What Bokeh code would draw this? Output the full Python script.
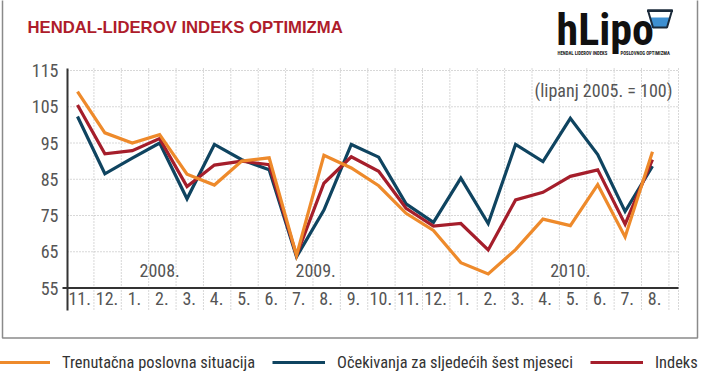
from bokeh.plotting import figure
from bokeh.models import Range1d, Legend, LegendItem
from bokeh.core.properties import value
from bokeh.embed import file_html
from bokeh.resources import INLINE

# ---------------- data ----------------
months = ["11.", "12.", "1.", "2.", "3.", "4.", "5.", "6.", "7.", "8.", "9.", "10.",
          "11.", "12.", "1.", "2.", "3.", "4.", "5.", "6.", "7.", "8."]
trenutacna = [109.2, 97.8, 95.0, 97.3, 86.4, 83.4, 90.0, 90.9, 64.0, 91.6, 88.1, 83.2,
              75.6, 70.9, 62.0, 58.9, 65.6, 74.0, 72.2, 83.5, 69.1, 92.6]
ocekivanja = [102.3, 86.5, 90.8, 95.0, 79.6, 94.6, 90.4, 87.6, 63.6, 76.5, 94.6, 91.1,
              78.2, 73.1, 85.3, 72.8, 94.6, 89.9, 101.8, 91.8, 76.1, 88.6]
indeks = [105.5, 92.0, 92.9, 96.2, 83.0, 88.9, 90.0, 89.0, 64.0, 83.9, 91.2, 87.2,
          77.0, 72.1, 72.8, 65.5, 79.3, 81.4, 85.8, 87.6, 72.6, 90.4]
y_ticks = [55, 65, 75, 85, 95, 105, 115]
years = ["2008.", "2009.", "2010."]
series_names = ["Trenutačna poslovna situacija", "Očekivanja za sljedećih šest mjeseci", "Indeks"]
title_text = "HENDAL-LIDEROV INDEKS OPTIMIZMA"
note_text = "(lipanj 2005. = 100)"

# ---------------- styles / layout ----------------
ORANGE = "#EE8A2B"
NAVY = "#0F4460"
RED = "#A51E2B"
TITLE_RED = "#AE1C2B"
COND_NAME = '"Roboto Condensed", Roboto, sans-serif'
COND = value(COND_NAME)
W, H = 702, 375

# pixel geometry of the plotting area (frame covers the whole canvas)
X0_PX, X_STEP = 77.0, 27.38          # pixel of first category, pixels per category
Y55_PX, Y_STEP = 287.5, 3.625        # pixel of value 55, pixels per unit
AX_L, AX_R, AX_T, AX_B = 67, 678, 68, 310


def dx(px):
    return (px - X0_PX) / X_STEP


def dy(py):
    return 55 + (Y55_PX - py) / Y_STEP


xs = list(range(len(months)))
year_x = [3.0, 8.7, 18.0]

p = figure(width=W, height=H, output_backend="svg", toolbar_location=None, title=None,
           x_range=Range1d(dx(0), dx(W)), y_range=Range1d(dy(H), dy(0)),
           x_axis_location=None, y_axis_location=None,
           min_border=0, min_border_left=0, min_border_right=0,
           min_border_top=0, min_border_bottom=0)
p.outline_line_color = None
p.xgrid.visible = False
p.ygrid.visible = False
p.background_fill_color = "white"
p.border_fill_color = "white"

GRID = dict(line_color="#b0b0b0", line_dash="1 2", line_width=1)
# horizontal grid lines
hg = y_ticks[1:]
p.segment(x0=[dx(AX_L)] * len(hg), x1=[dx(AX_R)] * len(hg), y0=hg, y1=hg, **GRID)
# vertical grid lines (between months)
vg = [i + 0.6 for i in xs] + [dx(AX_R)]
p.segment(x0=vg, x1=vg, y0=[dy(AX_T)] * len(vg), y1=[dy(AX_B)] * len(vg), **GRID)

# axis lines
p.segment(x0=[dx(AX_L)], x1=[dx(AX_L)], y0=[dy(AX_T)], y1=[dy(AX_B)],
          line_color="#333333", line_width=2)
p.segment(x0=[dx(62)], x1=[dx(AX_R)], y0=[y_ticks[0]], y1=[y_ticks[0]],
          line_color="#333333", line_width=2)

# tick labels
p.text(x=[dx(58)] * len(y_ticks), y=y_ticks, text=[str(t) for t in y_ticks],
       text_align="right", text_baseline="middle", text_font=COND,
       text_font_size="18px", text_color="#555555")
p.text(x=[i + 0.08 for i in xs], y=[dy(298)] * len(xs), text=months,
       text_align="center", text_baseline="middle", text_font=COND,
       text_font_size="18px", text_color="#555555")

# series
r_nav = p.line(xs, ocekivanja, line_color=NAVY, line_width=3.2, line_join="miter")
r_red = p.line(xs, indeks, line_color=RED, line_width=3.2, line_join="miter")
r_or = p.line(xs, trenutacna, line_color=ORANGE, line_width=3.2, line_join="miter")

# year labels & note
p.text(x=year_x, y=[dy(270)] * len(years), text=years, text_align="center",
       text_baseline="middle", text_font=COND, text_font_size="18px",
       text_color="#555555")
p.text(x=[dx(603)], y=[dy(90)], text=[note_text], text_align="center",
       text_baseline="middle", text_font=COND, text_font_size="18px",
       text_color="#555555")

# title
p.text(x=[dx(27)], y=[dy(26.5)], text=[title_text], text_align="left",
       text_baseline="middle", text_font=value("Liberation Sans"),
       text_font_style="bold", text_font_size="16.7px", text_color=TITLE_RED)

# logo
p.text(x=[dx(556)], y=[dy(29)], text=["hLipo"], text_align="left",
       text_baseline="middle", text_font=COND, text_font_style="bold",
       text_font_size="44px", text_color="#111111")
p.text(x=[dx(557), dx(620)], y=[dy(52.5), dy(52.5)],
       text=["HENDAL LIDEROV INDEKS", "POSLOVNOG OPTIMIZMA"], text_align="left",
       text_baseline="middle", text_font=COND, text_font_style="bold",
       text_font_size="4.8px", text_color="#222222")
# cup icon
p.patch(x=[dx(649.5), dx(669.5), dx(666), dx(653)],
        y=[dy(17), dy(17), dy(27), dy(27)], fill_color="#3D8FD1", line_color=None)
p.patch(x=[dx(647.5), dx(671.5), dx(666.5), dx(652.5)],
        y=[dy(10), dy(10), dy(27), dy(27)], fill_alpha=0,
        line_color="#1B2A3A", line_width=2)
p.patch(x=[dx(646.5), dx(672.5), dx(672.5), dx(646.5)],
        y=[dy(9), dy(9), dy(11.5), dy(11.5)], fill_color="#1B2A3A", line_color=None)

# outer frame (left, bottom, right)
p.line(x=[dx(2), dx(2), dx(697), dx(697)], y=[dy(-10), dy(337.5), dy(337.5), dy(-10)],
       line_color="#8a8a8a", line_width=1.5)

# legend
legend = Legend(items=[LegendItem(label=series_names[0], renderers=[r_or]),
                       LegendItem(label=series_names[1], renderers=[r_nav]),
                       LegendItem(label=series_names[2], renderers=[r_red])],
                orientation="horizontal", location=(-3, H - 372),
                border_line_color=None, background_fill_alpha=0,
                padding=0, margin=0, spacing=17, glyph_width=53, glyph_height=20,
                label_standoff=12, label_height=20,
                label_text_font=COND_NAME,
                label_text_font_size="16.4px", label_text_color="#333333")
p.add_layout(legend)

open("out.html", "w").write(file_html(p, INLINE))
